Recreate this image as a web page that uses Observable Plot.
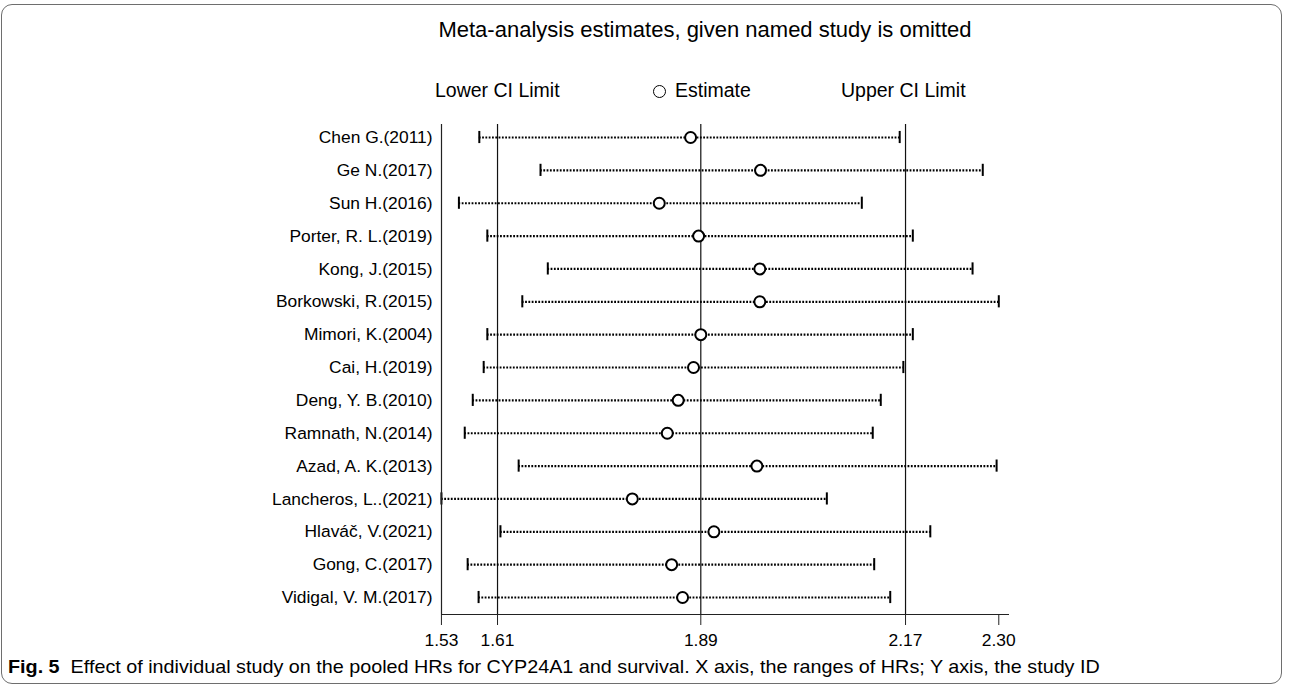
<!DOCTYPE html>
<html><head><meta charset="utf-8">
<script src="https://cdn.jsdelivr.net/npm/d3@7"></script>
<script src="https://cdn.jsdelivr.net/npm/@observablehq/plot@0.6"></script>
<style>
body{margin:0;background:#fff;}
#wrap{position:relative;width:1290px;height:688px;overflow:hidden;font-family:"Liberation Sans",Arial,sans-serif;color:#000;}
#border{position:absolute;left:1px;top:4px;width:1279px;height:678px;border:1.5px solid #6e6e6e;border-radius:11px;}
#title{position:absolute;left:405px;width:600px;top:18px;text-align:center;font-size:22px;line-height:24px;white-space:nowrap;}
.leg{position:absolute;top:78px;font-size:19.5px;line-height:24px;white-space:nowrap;}
.circ{display:inline-block;width:11px;height:11px;border:1.6px solid #000;border-radius:50%;vertical-align:-1px;margin-right:9px;}
#chart{position:absolute;left:0;top:105px;}
#caption{position:absolute;left:8px;top:656px;font-family:"Liberation Sans",Arial,sans-serif;font-size:19px;line-height:22px;white-space:nowrap;transform:scaleX(1.04);transform-origin:0 50%;}
</style></head>
<body>
<div id="wrap">
  <div id="border"></div>
  <div id="title">Meta-analysis estimates, given named study is omitted</div>
  <div class="leg" style="left:435px">Lower CI Limit</div>
  <div class="leg" style="left:653px"><span class="circ"></span>Estimate</div>
  <div class="leg" style="left:841px">Upper CI Limit</div>
  <div id="chart"></div>
  <div id="caption"><b>Fig. 5</b>&nbsp; Effect of individual study on the pooled HRs for CYP24A1 and survival. X axis, the ranges of HRs; Y axis, the study ID</div>
</div>
<script>
const studies = ["Chen G.(2011)","Ge N.(2017)","Sun H.(2016)","Porter, R. L.(2019)","Kong, J.(2015)","Borkowski, R.(2015)","Mimori, K.(2004)","Cai, H.(2019)","Deng, Y. B.(2010)","Ramnath, N.(2014)","Azad, A. K.(2013)","Lancheros, L..(2021)","Hlaváč, V.(2021)","Gong, C.(2017)","Vidigal, V. M.(2017)"];
const lower    = [1.585,1.669,1.557,1.596,1.679,1.644,1.596,1.591,1.576,1.565,1.639,1.533,1.614,1.569,1.584];
const estimate = [1.875,1.971,1.832,1.886,1.970,1.970,1.889,1.879,1.858,1.843,1.966,1.795,1.907,1.849,1.864];
const upper    = [2.162,2.276,2.110,2.180,2.262,2.298,2.180,2.167,2.136,2.125,2.295,2.062,2.204,2.127,2.149];
const pooled = [1.610,1.889,2.170];
const tickValues = [1.533,1.610,1.889,2.170,2.298];
const tickLabels = ["1.53","1.61","1.89","2.17","2.30"];

const rows = studies.map((s,i)=>({i, study:s, lo:lower[i], est:estimate[i], hi:upper[i]}));
const half = 0.185;
const xDom = [1.5331, 2.3127];
const yDom = [14.517, -0.396];

const chart = Plot.plot({
  width:1290, height:550,
  marginLeft:441, marginRight:281, marginTop:19, marginBottom:41,
  style:{fontFamily:"'Liberation Sans', Arial, sans-serif", fontSize:"17.4px", color:"#000", background:"transparent", overflow:"visible"},
  x:{domain:xDom},
  y:{domain:yDom},
  marks:[
    Plot.ruleX(pooled,{stroke:"#111", strokeWidth:1.2}),
    Plot.ruleY(rows,{y:"i", x1:"lo", x2:"hi", stroke:"#000", strokeWidth:2.2, strokeDasharray:"1.8,1.5"}),
    Plot.ruleX(rows,{x:"lo", y1:d=>d.i-half, y2:d=>d.i+half, stroke:"#000", strokeWidth:2}),
    Plot.ruleX(rows,{x:"hi", y1:d=>d.i-half, y2:d=>d.i+half, stroke:"#000", strokeWidth:2}),
    Plot.dot(rows,{x:"est", y:"i", r:5.5, stroke:"#000", fill:"#fff", strokeWidth:2}),
    Plot.ruleX([xDom[0]],{y1:yDom[1], y2:yDom[0], stroke:"#222", strokeWidth:1.2}),
    Plot.ruleY([yDom[0]],{stroke:"#222", strokeWidth:1.2}),
    Plot.axisX({ticks:tickValues, tickFormat:d=>tickLabels[tickValues.indexOf(d)], tickSize:11, tickPadding:8, label:null, stroke:"#222"}),
    Plot.axisY({ticks:d3.range(studies.length), tickFormat:i=>studies[i], tickSize:0, tickPadding:9, label:null})
  ]
});
document.getElementById("chart").appendChild(chart);
</script>
</body></html>
